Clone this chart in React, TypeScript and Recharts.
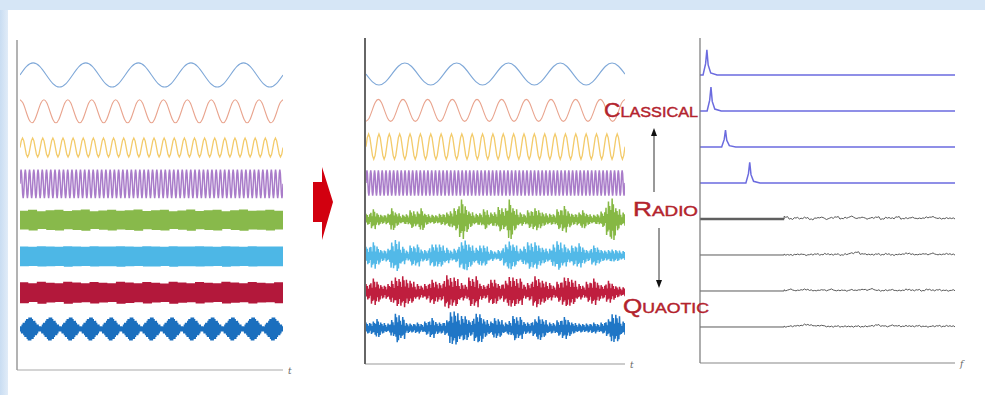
import React from 'react';
import { LineChart, Line, XAxis, YAxis } from 'recharts';

// ---- waveform building blocks ----
const sineCycle = [0, 0.71, 1, 0.71, 0, -0.71, -1, -0.71];
const zigCycle = [1, -1];
const noiseTexture = [1, -0.6, 0.75, -1, 0.4, -0.85, 0.9, -0.5, 0.65, -0.9, 0.3, -0.7];
const fineTexture = [1, -1, 0.4, -0.3];

// left panel: classical sinusoids
const leftSineCycles = [5, 11, 26, 62];
const leftSineAmp = [1.1, 1.05, 0.86, 1.3];
const leftSinePhase = [0, 2, 0, 0];
const leftColors = ['#7fa8d8', '#e9a48e', '#f3cb6b', '#a97cc9', '#88b94b', '#4db7e6', '#b3183b', '#1b6fbe'];

// left panel: dense bands (amplitude envelopes)
const leftGreenEnv = [0.85, 0.95, 0.8, 0.9, 0.95, 0.82, 0.9, 0.96, 0.8, 0.88, 0.95, 0.84, 0.9, 0.97, 0.82, 0.9, 0.94, 0.8, 0.88, 0.96, 0.83, 0.9, 0.95, 0.8, 0.9, 0.96, 0.84, 0.88, 0.94, 0.85];
const leftCyanEnv = [0.9, 0.88, 0.92, 0.9, 0.87, 0.93, 0.9, 0.88, 0.92, 0.9, 0.89, 0.93, 0.9, 0.87, 0.92, 0.91, 0.88, 0.93, 0.9, 0.89, 0.92, 0.9, 0.88, 0.93, 0.9, 0.87, 0.92, 0.9, 0.89, 0.9];
const leftRedEnv = [0.95, 0.85, 1.0, 0.9, 0.85, 1.0, 0.92, 0.86, 0.98, 0.9, 0.85, 1.0, 0.93, 0.86, 0.97, 0.9, 0.84, 1.0, 0.92, 0.86, 0.98, 0.9, 0.85, 0.99, 0.92, 0.86, 0.97, 0.9, 0.86, 0.95];
const diamondEnv = [0.22, 0.38, 0.54, 0.7, 0.86, 1.0, 1.0, 0.86, 0.7, 0.54, 0.38, 0.22];
const diamondCount = 13;

// middle panel: sinusoids then radio bursts
const midSineCycles = [5, 10.5, 25, 68];
const midSineAmp = [1.0, 1.0, 1.15, 1.15];
const midSinePhase = [4, 6, 0, 0];
const midColors = ['#7fa8d8', '#e9a48e', '#f3cb6b', '#a97cc9', '#86b844', '#52b9e8', '#bf1e3e', '#1f76c6'];

const midGreenBurst = [0.5, 0.9, 0.6, 0.4, 0.5, 1.1, 0.6, 0.4, 0.5, 0.8, 0.7, 1.1, 0.5, 0.4, 0.4, 0.5, 0.6, 0.8, 1.0, 1.8, 1.3, 0.7, 0.5, 0.6, 0.9, 0.6, 0.7, 1.1, 1.0, 2.0, 1.0, 0.6, 0.5, 0.8, 1.0, 0.9, 0.6, 0.5, 0.5, 0.9, 1.2, 0.8, 0.5, 0.6, 0.9, 0.5, 0.4, 0.5, 0.7, 1.6, 2.1, 1.0, 0.6];
const midCyanBurst = [0.8, 1.2, 0.9, 0.5, 0.6, 1.3, 1.4, 0.8, 0.5, 0.9, 1.0, 0.6, 0.5, 1.0, 1.1, 1.0, 0.7, 0.5, 0.6, 1.2, 1.5, 1.0, 0.7, 1.0, 0.9, 0.5, 0.4, 0.5, 1.0, 1.4, 1.0, 0.6, 0.9, 1.2, 1.2, 1.0, 0.7, 0.6, 1.1, 1.3, 1.0, 0.7, 0.9, 1.1, 0.8, 0.5, 0.9, 0.8, 0.5, 0.5, 0.6, 0.5, 0.4];
const midRedBurst = [0.7, 1.2, 1.0, 0.6, 0.7, 1.1, 1.3, 1.4, 1.2, 1.0, 0.7, 0.6, 0.7, 1.1, 1.0, 0.8, 1.5, 1.4, 1.3, 0.8, 0.7, 1.3, 1.4, 0.8, 0.6, 1.1, 1.2, 0.7, 1.0, 1.5, 1.3, 1.2, 0.7, 0.8, 1.4, 1.3, 1.0, 0.8, 0.6, 0.9, 1.3, 1.4, 1.1, 0.7, 0.6, 0.9, 1.2, 0.9, 0.6, 1.0, 0.8, 0.5, 0.4];
const midBlueBurst = [0.5, 0.6, 0.9, 0.5, 0.4, 0.8, 1.3, 1.0, 0.5, 0.4, 0.5, 0.4, 0.6, 0.9, 0.6, 0.5, 0.7, 1.6, 1.5, 1.1, 1.2, 0.7, 1.3, 1.4, 0.8, 0.6, 1.0, 0.8, 0.5, 0.7, 1.1, 1.0, 0.6, 0.5, 0.8, 1.2, 0.8, 0.5, 0.5, 0.7, 1.0, 0.8, 0.5, 0.4, 0.4, 0.4, 0.5, 0.4, 0.5, 0.8, 1.4, 1.2, 0.6];

// right panel: spectra
const peakFreq = [2.7, 4.3, 10, 19.5];
const peakHeight = [2.3, 2.2, 1.55, 1.9];
const peakShapeDf = [-1.5, -0.5, 0, 0.5, 1.5, 4];
const peakShapeFrac = [0, 0.45, 1, 0.4, 0.08, 0];
const greyNoiseStart = 33;
const greyNoise = [
  [0.2, 0.0, 0.1, 0.05, 0.12, -0.04, 0.08, 0.15, 0.0, 0.1, 0.18, 0.04, 0.12, 0.22, 0.06, 0.15, 0.03, 0.1, 0.16, 0.0, 0.12, 0.06, 0.18, 0.03, 0.08, 0.12, 0.04, 0.08, 0.15, 0.18, 0.06, 0.04, 0.08, 0.05],
  [0.03, 0.0, 0.04, 0.07, 0.0, 0.04, 0.08, 0.03, 0.1, 0.03, 0.07, 0.0, 0.08, 0.16, 0.25, 0.1, 0.06, 0.03, 0.08, 0.03, 0.1, 0.0, 0.04, 0.08, 0.15, 0.06, 0.03, 0.1, 0.06, 0.14, 0.03, 0.07, 0.1, 0.04],
  [0.06, 0.14, 0.03, 0.1, 0.14, 0.06, 0.03, 0.1, 0.06, 0.14, 0.03, 0.07, 0.03, 0.1, 0.06, 0.14, 0.1, 0.18, 0.06, 0.03, 0.07, 0.1, 0.03, 0.06, 0.14, 0.06, 0.1, 0.03, 0.14, 0.06, 0.1, 0.06, 0.03, 0.07],
  [0.03, 0.07, 0.1, 0.14, 0.22, 0.16, 0.1, 0.14, 0.06, 0.03, 0.07, 0.03, 0.06, 0.03, 0.07, 0.03, 0.06, 0.1, 0.18, 0.1, 0.06, 0.14, 0.1, 0.06, 0.1, 0.06, 0.1, 0.06, 0.03, 0.07, 0.1, 0.06, 0.1, 0.06],
];

const labels = { classical: ['C', 'LASSICAL'], radio: ['R', 'ADIO'], quaotic: ['Q', 'UAOTIC'] };

// ---- table builders ----
const TRACK = 3.3;
const trackBase = (k: number) => (7 - k) * TRACK;

type Pt = { x: number; y: number };

function tile(cycle: number[], cycles: number, phase = 0): number[] {
  const n = Math.round(cycles * cycle.length);
  const out: number[] = [];
  for (let i = 0; i <= n; i++) out.push(cycle[(i + phase) % cycle.length]);
  return out;
}
function modulate(env: number[], per: number, carrier: number[]): number[] {
  const out: number[] = [];
  env.forEach((a, j) => {
    for (let s = 0; s < per; s++) out.push(a * carrier[(j * per + s) % carrier.length]);
  });
  return out;
}
function toSeries(vals: number[], amp: number, k: number): Pt[] {
  const n = vals.length;
  return vals.map((v, i) => ({ x: i / (n - 1), y: trackBase(k) + amp * v }));
}
function roughen(vals: number[], per: number, tex: number[], depth: number): number[] {
  const out: number[] = [];
  vals.forEach((v, j) => {
    for (let s = 0; s < per; s++) out.push(v + depth * tex[(j * per + s) % tex.length]);
  });
  return out;
}

const diamondEnvAll: number[] = [];
for (let d = 0; d < diamondCount; d++) diamondEnvAll.push(...diamondEnv);

const leftSeries: Pt[][] = [
  ...leftSineCycles.map((c, i) => toSeries(tile(sineCycle, c, leftSinePhase[i]), leftSineAmp[i], i)),
  toSeries(modulate(leftGreenEnv, 14, zigCycle), 1, 4),
  toSeries(modulate(leftCyanEnv, 14, zigCycle), 1, 5),
  toSeries(modulate(leftRedEnv, 14, zigCycle), 1, 6),
  toSeries(modulate(diamondEnvAll, 3, zigCycle), 1.05, 7),
];

const midSeries: Pt[][] = [
  ...midSineCycles.map((c, i) => toSeries(tile(sineCycle, c, midSinePhase[i]), midSineAmp[i], i)),
  toSeries(modulate(midGreenBurst, 8, noiseTexture), 1, 4),
  toSeries(modulate(midCyanBurst, 8, noiseTexture), 1, 5),
  toSeries(modulate(midRedBurst, 8, noiseTexture), 1, 6),
  toSeries(modulate(midBlueBurst, 8, noiseTexture), 1, 7),
];

const spectraBlue: Pt[][] = peakFreq.map((f, i) => {
  const pts: Pt[] = [{ x: 0, y: trackBase(i) }];
  peakShapeDf.forEach((df, j) => {
    const x = f + df;
    if (x > 0) pts.push({ x, y: trackBase(i) + peakShapeFrac[j] * peakHeight[i] });
  });
  pts.push({ x: 100, y: trackBase(i) });
  return pts;
});
const spectraGrey: Pt[][] = greyNoise.map((vals, i) => {
  const k = 4 + i;
  const pts: Pt[] = [{ x: 0, y: trackBase(k) }, { x: greyNoiseStart, y: trackBase(k) }];
  const fine = roughen(vals, 3, fineTexture, 0.05);
  const step = (100 - greyNoiseStart) / (fine.length - 1);
  fine.forEach((v, j) => pts.push({ x: greyNoiseStart + j * step, y: trackBase(k) + v }));
  return pts;
});
const greyFlatThick: Pt[] = [{ x: 0, y: trackBase(4) }, { x: greyNoiseStart, y: trackBase(4) }];

// ---- components ----
type PanelProps = {
  left: number; top: number; width: number; height: number;
  margin: { top: number; left: number; right: number; bottom: number };
  yDomain: [number, number]; xDomain: [number, number];
  axisLabel: string; yAxisColor: string; yAxisWidth: number; xAxisColor: string;
  padLeft?: number;
  children: React.ReactNode;
};

function Panel(p: PanelProps) {
  return (
    <div style={{ position: 'absolute', left: p.left, top: p.top }}>
      <LineChart width={p.width} height={p.height} margin={p.margin}>
        <XAxis
          type="number" dataKey="x" domain={p.xDomain} allowDataOverflow
          height={1} tick={false} tickLine={false}
          padding={{ left: p.padLeft ?? 0, right: 0 }}
          axisLine={{ stroke: p.xAxisColor, strokeWidth: 1.2 }}
          label={{ value: p.axisLabel, position: 'right', offset: 5, fill: '#666', fontSize: 9, fontStyle: 'italic', fontFamily: 'DejaVu Serif, serif' }}
        />
        <YAxis
          type="number" domain={p.yDomain} allowDataOverflow width={1}
          tick={false} tickLine={false}
          axisLine={{ stroke: p.yAxisColor, strokeWidth: p.yAxisWidth }}
        />
        {p.children}
      </LineChart>
    </div>
  );
}

function series(data: Pt[], color: string, w: number, key: string, smooth = false) {
  return (
    <Line key={key} data={data} dataKey="y" type={smooth ? 'natural' : 'linear'} stroke={color}
      strokeWidth={w} dot={false} activeDot={false} isAnimationActive={false} />
  );
}

const redText = '#b3232d';

export default function App() {
  return (
    <div style={{ position: 'fixed', left: 0, top: 0, width: 985, height: 395, background: '#d6e6f6', overflow: 'hidden' }}>
      <div style={{ position: 'absolute', left: 0, top: 10, width: 8, height: 385, background: 'linear-gradient(90deg, #c9ddf2, #e1ecf8)' }} />
      <div style={{ position: 'absolute', left: 8, top: 10, width: 977, height: 385, background: '#ffffff' }} />

      <Panel left={11} top={36} width={291} height={341}
        margin={{ top: 4, left: 5, right: 19, bottom: 6 }}
        yDomain={[-3.73, 26.28]} xDomain={[0, 1]} axisLabel="t"
        yAxisColor="#9a9a9a" yAxisWidth={1.5} xAxisColor="#aaaaaa" padLeft={3}>
        {leftSeries.map((d, i) => series(d, leftColors[i], i < 2 ? 1.1 : i < 3 ? 1.3 : 1.5, 'l' + i, i < 2))}
      </Panel>

      <Panel left={359} top={34} width={291} height={337}
        margin={{ top: 4, left: 5, right: 25, bottom: 6 }}
        yDomain={[-3.27, 26.38]} xDomain={[0, 1]} axisLabel="t"
        yAxisColor="#666666" yAxisWidth={2} xAxisColor="#999999" padLeft={1}>
        {midSeries.map((d, i) => series(d, midColors[i], i < 2 ? 1.1 : i < 3 ? 1.3 : 1.5, 'm' + i, i < 2))}
      </Panel>

      <Panel left={694} top={34} width={281} height={336}
        margin={{ top: 4, left: 5, right: 20, bottom: 6 }}
        yDomain={[-3.3, 26.49]} xDomain={[0, 100]} axisLabel="f"
        yAxisColor="#777777" yAxisWidth={1.2} xAxisColor="#888888">
        {series(greyFlatThick, '#666666', 2.6, 'gthick')}
        {spectraBlue.map((d, i) => series(d, '#6b6bdf', 1.5, 'b' + i))}
        {spectraGrey.map((d, i) => series(d, '#5a5a5a', 1.0, 'g' + i))}
      </Panel>

      <svg width={985} height={395} style={{ position: 'absolute', left: 0, top: 0, pointerEvents: 'none' }}>
        <polygon points="313,182 322,182 322,167 333,202 322,240 322,222 313,222" fill="#d2000f" />
        <g fontFamily="Liberation Sans, Arial, sans-serif" fill={redText} stroke={redText} strokeWidth={0.45}>
          <text x={604} y={117} textLength={94} lengthAdjust="spacingAndGlyphs">
            <tspan fontSize={21}>{labels.classical[0]}</tspan><tspan fontSize={15}>{labels.classical[1]}</tspan>
          </text>
          <text x={633} y={216} textLength={65} lengthAdjust="spacingAndGlyphs">
            <tspan fontSize={21}>{labels.radio[0]}</tspan><tspan fontSize={15}>{labels.radio[1]}</tspan>
          </text>
          <text x={623} y={313} textLength={86} lengthAdjust="spacingAndGlyphs">
            <tspan fontSize={21}>{labels.quaotic[0]}</tspan><tspan fontSize={15}>{labels.quaotic[1]}</tspan>
          </text>
        </g>
        <line x1={654} y1={192} x2={654} y2={135} stroke="#333" strokeWidth={1} />
        <polygon points="651,136 657,136 654,128" fill="#111" />
        <line x1={659} y1={228} x2={659} y2={281} stroke="#333" strokeWidth={1} />
        <polygon points="656,280 662,280 659,288" fill="#111" />
      </svg>
    </div>
  );
}
